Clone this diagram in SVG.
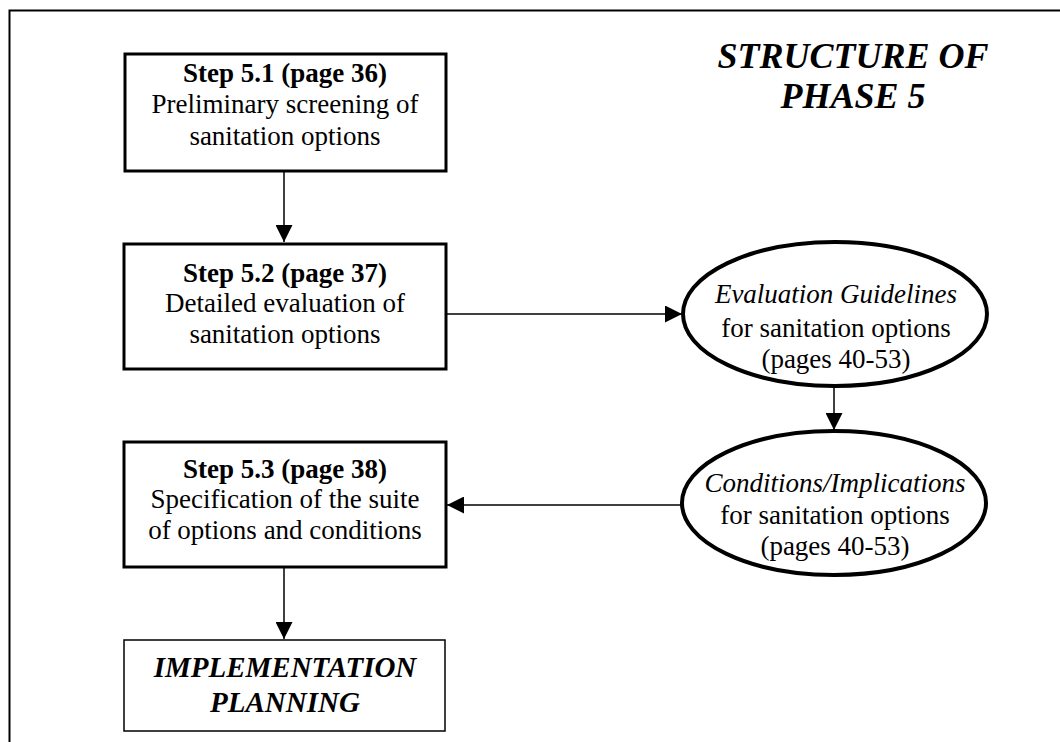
<svg xmlns="http://www.w3.org/2000/svg" width="1060" height="742" viewBox="0 0 1060 742">
<style>
text{font-family:"Liberation Serif","Times New Roman",serif;fill:#000;text-anchor:middle}
.t{font-size:27px}
.b{font-weight:bold}
.i{font-style:italic}
.box{fill:#fff;stroke:#000;stroke-width:3}
.thin{fill:#fff;stroke:#000;stroke-width:1.5}
.ell{fill:#fff;stroke:#000;stroke-width:4}
.ln{stroke:#000;stroke-width:1.5;fill:none}
</style>
<defs>
<marker id="ah" viewBox="0 0 10 10" refX="10" refY="5" markerWidth="17" markerHeight="17" markerUnits="userSpaceOnUse" orient="auto">
<path d="M0,0 L10,5 L0,10 Z" fill="#000"/>
</marker>
</defs>
<rect width="1060" height="742" fill="#fff"/>
<path d="M9.5,742 V10.5 H1060" fill="none" stroke="#000" stroke-width="2"/>
<g id="title">
<text x="853" y="68" font-size="36" class="b i">STRUCTURE OF</text>
<text x="853" y="108" font-size="36" class="b i">PHASE 5</text>
</g>
<g id="connectors">
<line class="ln" x1="284" y1="171" x2="284" y2="242" marker-end="url(#ah)"/>
<line class="ln" x1="446" y1="314" x2="682" y2="314" marker-end="url(#ah)"/>
<line class="ln" x1="834" y1="387" x2="834" y2="430" marker-end="url(#ah)"/>
<line class="ln" x1="681" y1="505" x2="447" y2="505" marker-end="url(#ah)"/>
<line class="ln" x1="284" y1="567" x2="284" y2="639" marker-end="url(#ah)"/>
</g>
<g id="step51">
<rect class="box" x="125" y="54" width="321" height="117"/>
<text class="t b" x="285" y="82">Step 5.1 (page 36)</text>
<text class="t" x="285" y="113">Preliminary screening of</text>
<text class="t" x="285" y="145">sanitation options</text>
</g>
<g id="step52">
<rect class="box" x="124" y="244" width="322" height="125"/>
<text class="t b" x="285" y="282">Step 5.2 (page 37)</text>
<text class="t" x="285" y="312">Detailed evaluation of</text>
<text class="t" x="285" y="343">sanitation options</text>
</g>
<g id="guidelines">
<ellipse class="ell" cx="835" cy="314" rx="152" ry="72"/>
<text class="t i" x="836" y="303">Evaluation Guidelines</text>
<text class="t" x="836" y="337">for sanitation options</text>
<text class="t" x="836" y="368">(pages 40-53)</text>
</g>
<g id="conditions">
<ellipse class="ell" cx="834" cy="503" rx="152" ry="72"/>
<text class="t i" x="835" y="492">Conditions/Implications</text>
<text class="t" x="835" y="524">for sanitation options</text>
<text class="t" x="835" y="555">(pages 40-53)</text>
</g>
<g id="step53">
<rect class="box" x="124" y="442" width="322" height="125"/>
<text class="t b" x="285" y="478">Step 5.3 (page 38)</text>
<text class="t" x="285" y="508">Specification of the suite</text>
<text class="t" x="285" y="539">of options and conditions</text>
</g>
<g id="implementation">
<rect class="thin" x="124" y="640" width="321" height="91"/>
<text x="285" y="677" font-size="29" class="b i">IMPLEMENTATION</text>
<text x="285" y="712" font-size="29" class="b i">PLANNING</text>
</g>
</svg>
